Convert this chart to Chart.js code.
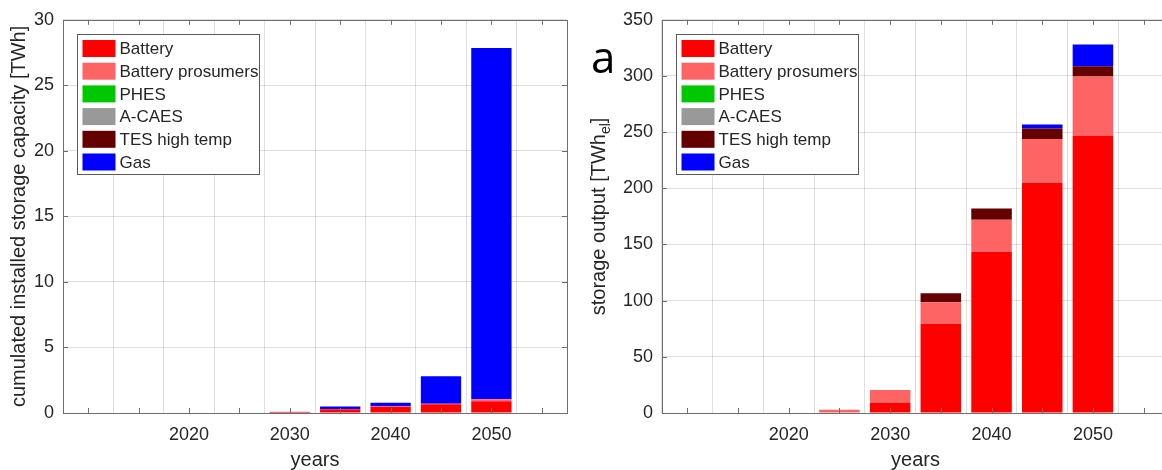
<!DOCTYPE html>
<html>
<head>
<meta charset="utf-8">
<script src="https://cdn.jsdelivr.net/npm/chart.js@4/dist/chart.umd.min.js"></script>
<style>
  html, body { margin: 0; padding: 0; background: #fff; overflow: hidden; width: 1162px; height: 470px; }
  #left { position: absolute; left: 0; top: 0; }
  #right { position: absolute; left: 580px; top: 0; }
</style>
</head>
<body>
<canvas id="left" width="580" height="470"></canvas>
<canvas id="right" width="602" height="470"></canvas>
<script>
////////////////// Data ///////////////////////

const years = [2015, 2020, 2025, 2030, 2035, 2040, 2045, 2050];
const seriesNames = ["Battery", "Battery prosumers", "PHES", "A-CAES", "TES high temp", "Gas"];
const seriesColors = ["#ff0000", "#ff6464", "#00c800", "#999999", "#640000", "#0000ff"];

// cumulated installed storage capacity [TWh]
const capBattery = [0, 0, 0, 0.02, 0.28, 0.48, 0.66, 0.9];
const capProsumers = [0, 0, 0, 0.07, 0.03, 0.03, 0.05, 0.14];
const capPHES = [0, 0, 0, 0, 0, 0, 0, 0];
const capACAES = [0, 0, 0, 0, 0, 0, 0, 0];
const capTES = [0, 0, 0, 0, 0, 0, 0, 0];
const capGas = [0, 0, 0, 0, 0.18, 0.28, 2.1, 26.8];

// storage output [TWh_el]
const outBattery = [0, 0, 0, 9, 79.5, 143.5, 205, 246.5];
const outProsumers = [0, 0, 3, 11.5, 19, 28.5, 39, 53];
const outPHES = [0, 0, 0, 0, 0, 0, 0, 0];
const outACAES = [0, 0, 0, 0, 0, 0, 0, 0];
const outTES = [0, 0, 0, 0, 8, 10, 9.3, 9.2];
const outGas = [0, 0, 0, 0, 0, 0, 3.6, 19.4];

const xTicks = [2020, 2030, 2040, 2050];

////////////////// Style ///////////////////////

const family = "'Liberation Sans', Arial, sans-serif";
const textColor = "#262626";
const gridColor = "rgba(38, 38, 38, 0.15)";

// matlab style box with inward ticks
const axesBox = {
  id: "axesBox",
  afterDraw(chart) {
    const { ctx, chartArea: a, scales } = chart;
    ctx.save();
    ctx.strokeStyle = "#6e6e6e";
    ctx.lineWidth = 1;
    ctx.beginPath();
    scales.x.ticks.forEach((t) => {
      const px = Math.round(scales.x.getPixelForValue(t.value)) + 0.5;
      ctx.moveTo(px, a.bottom);
      ctx.lineTo(px, a.bottom - 5);
      ctx.moveTo(px, a.top);
      ctx.lineTo(px, a.top + 5);
    });
    scales.y.ticks.forEach((t) => {
      const py = Math.round(scales.y.getPixelForValue(t.value)) + 0.5;
      ctx.moveTo(a.left, py);
      ctx.lineTo(a.left + 5, py);
      ctx.moveTo(a.right, py);
      ctx.lineTo(a.right - 5, py);
    });
    ctx.stroke();
    ctx.strokeRect(Math.round(a.left) + 0.5, Math.round(a.top) + 0.5, Math.round(a.right - a.left), Math.round(a.bottom - a.top));
    ctx.restore();
  },
};

// legend box inside the axes, top left
const boxLegend = {
  id: "boxLegend",
  afterDraw(chart) {
    const { ctx, chartArea: a } = chart;
    const x0 = Math.round(a.left) + 14.5;
    const y0 = Math.round(a.top) + 14.5;
    const w = 182, h = 140;
    ctx.save();
    ctx.fillStyle = "#fff";
    ctx.fillRect(x0, y0, w, h);
    ctx.strokeStyle = "#5a5a5a";
    ctx.lineWidth = 1;
    ctx.strokeRect(x0, y0, w, h);
    ctx.font = "17px " + family;
    ctx.textBaseline = "middle";
    chart.data.datasets.forEach((ds, i) => {
      const cy = y0 + 14 + i * 22.7;
      ctx.fillStyle = ds.backgroundColor;
      ctx.fillRect(x0 + 5, cy - 8.5, 33, 17);
      ctx.fillStyle = textColor;
      ctx.fillText(ds.label, x0 + 42, cy + 1);
    });
    ctx.restore();
  },
};

// rotated y title, supports subscript
const yTitle = {
  id: "yTitle",
  afterDraw(chart, args, opts) {
    const { ctx, chartArea: a } = chart;
    const big = "20px " + family;
    const small = "14px " + family;
    ctx.save();
    let total = 0;
    opts.parts.forEach((p) => {
      ctx.font = p.sub ? small : big;
      total += ctx.measureText(p.text).width;
    });
    ctx.translate(opts.x, (a.top + a.bottom) / 2);
    ctx.rotate(-Math.PI / 2);
    ctx.fillStyle = textColor;
    ctx.textBaseline = "alphabetic";
    let cx = -total / 2;
    opts.parts.forEach((p) => {
      ctx.font = p.sub ? small : big;
      ctx.fillText(p.text, cx, p.sub ? 10 : 5);
      cx += ctx.measureText(p.text).width;
    });
    if (opts.tag) {
      ctx.restore();
      ctx.save();
      ctx.font = "44px 'Open Sans', sans-serif";
      ctx.fillStyle = "#000";
      ctx.fillText(opts.tag, 11, 73);
    }
    ctx.restore();
  },
};

const makeDatasets = function (lists) {
  return lists.map((vals, i) => ({
    label: seriesNames[i],
    data: vals,
    backgroundColor: seriesColors[i],
    borderWidth: 0,
    categoryPercentage: 1,
    barPercentage: 0.8,
  }));
};

const makeChart = function (id, lists, yMax, yStep, yWidth, titleParts, tag) {
  const ctx = document.getElementById(id);
  return new Chart(ctx, {
    type: "bar",
    data: {
      labels: years,
      datasets: makeDatasets(lists),
    },
    plugins: [axesBox, boxLegend, yTitle],
    options: {
      responsive: false,
      animation: false,
      layout: { padding: { top: 18, right: 13, left: 0, bottom: 0 } },
      scales: {
        x: {
          type: "linear",
          stacked: true,
          min: 2010,
          max: 2055,
          z: 1,
          afterBuildTicks: (scale) => {
            const t = [];
            for (let v = 2010; v <= 2055; v += 5) t.push({ value: v });
            scale.ticks = t;
          },
          afterFit: (scale) => { scale.height = 57; },
          grid: { color: gridColor, drawTicks: false },
          border: { display: false },
          ticks: {
            color: textColor,
            font: { size: 18, family: family },
            padding: 11,
            maxRotation: 0,
            autoSkip: false,
            callback: (v) => (xTicks.includes(v) ? String(v) : ""),
          },
          title: {
            display: true,
            text: "years",
            color: textColor,
            font: { size: 20, family: family, lineHeight: 1 },
            padding: { top: 0, bottom: 0 },
          },
        },
        y: {
          stacked: true,
          min: 0,
          max: yMax,
          z: 1,
          afterFit: (scale) => { scale.width = yWidth; },
          grid: { color: gridColor, drawTicks: false },
          border: { display: false },
          ticks: {
            stepSize: yStep,
            color: textColor,
            font: { size: 18, family: family },
            padding: 9,
          },
        },
      },
      plugins: {
        legend: { display: false },
        tooltip: { enabled: false },
        yTitle: { parts: titleParts, x: 20, tag: tag },
      },
    },
  });
};

makeChart(
  "left",
  [capBattery, capProsumers, capPHES, capACAES, capTES, capGas],
  30, 5, 63,
  [{ text: "cumulated installed storage capacity [TWh]" }],
  null
);

makeChart(
  "right",
  [outBattery, outProsumers, outPHES, outACAES, outTES, outGas],
  350, 50, 82,
  [{ text: "storage output [TWh" }, { text: "el", sub: true }, { text: "]" }],
  "a"
);
</script>
</body>
</html>
